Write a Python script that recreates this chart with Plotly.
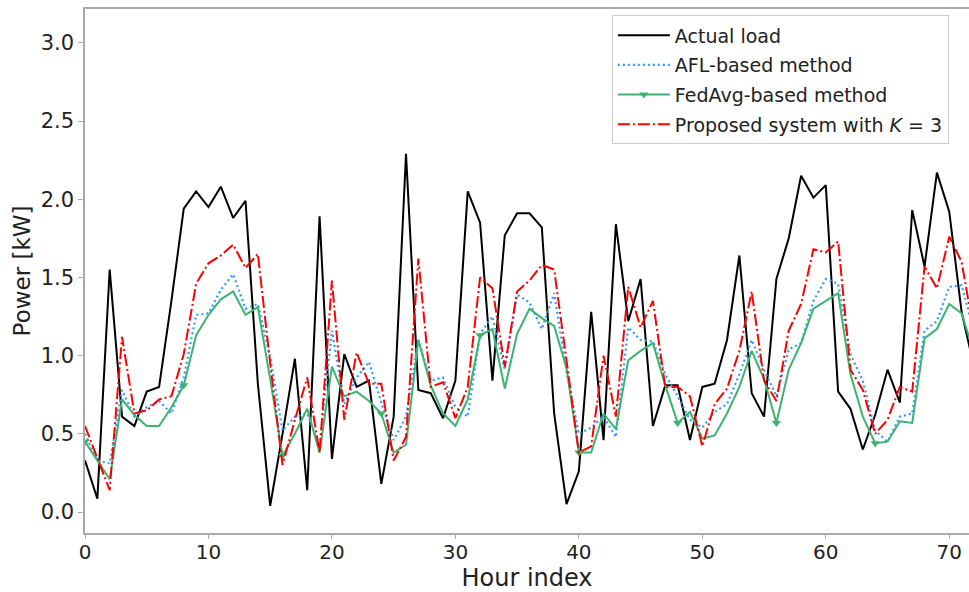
import plotly.graph_objects as go

# Hourly load profile and the three forecasts (kW)
hours = list(range(73))

actual_load = [
    0.33, 0.085, 1.55, 0.61, 0.55, 0.77, 0.80, 1.35, 1.94, 2.05,
    1.95, 2.08, 1.88, 1.99, 0.82, 0.04, 0.50, 0.98, 0.14, 1.89,
    0.34, 1.01, 0.80, 0.84, 0.18, 0.61, 2.29, 0.78, 0.76, 0.60,
    0.84, 2.05, 1.85, 0.84, 1.77, 1.91, 1.91, 1.82, 0.63, 0.05,
    0.26, 1.28, 0.46, 1.84, 1.22, 1.49, 0.55, 0.81, 0.81, 0.46,
    0.80, 0.82, 1.10, 1.64, 0.76, 0.61, 1.49, 1.75, 2.15, 2.01,
    2.09, 0.77, 0.66, 0.40, 0.62, 0.91, 0.70, 1.93, 1.57, 2.17,
    1.92, 1.28, 0.93,
]

afl_method = [
    0.50, 0.33, 0.31, 0.78, 0.61, 0.67, 0.71, 0.63, 0.86, 1.26,
    1.27, 1.42, 1.52, 1.30, 1.33, 0.99, 0.52, 0.61, 0.63, 0.42,
    1.16, 0.69, 0.86, 0.96, 0.70, 0.46, 0.61, 1.10, 0.84, 0.86,
    0.67, 0.61, 1.14, 1.25, 0.91, 1.39, 1.34, 1.17, 1.40, 0.90,
    0.50, 0.54, 0.61, 0.48, 1.18, 1.10, 1.09, 0.88, 0.74, 0.59,
    0.54, 0.64, 0.69, 0.88, 1.10, 0.91, 0.74, 1.04, 1.08, 1.35,
    1.49, 1.46, 1.01, 0.84, 0.52, 0.45, 0.61, 0.63, 1.16, 1.22,
    1.44, 1.45, 1.15,
]

fedavg_method = [
    0.45, 0.33, 0.21, 0.72, 0.62, 0.55, 0.55, 0.67, 0.81, 1.13,
    1.26, 1.36, 1.41, 1.26, 1.31, 0.85, 0.36, 0.50, 0.66, 0.38,
    0.93, 0.74, 0.77, 0.71, 0.63, 0.38, 0.43, 1.10, 0.81, 0.63,
    0.55, 0.72, 1.13, 1.17, 0.79, 1.14, 1.30, 1.24, 1.19, 0.92,
    0.38, 0.38, 0.63, 0.53, 0.97, 1.03, 1.08, 0.81, 0.57, 0.64,
    0.47, 0.49, 0.63, 0.80, 1.03, 0.85, 0.57, 0.91, 1.08, 1.30,
    1.35, 1.40, 0.88, 0.61, 0.44, 0.45, 0.58, 0.57, 1.11, 1.17,
    1.33, 1.27, 1.02,
]

proposed_k3 = [
    0.55, 0.35, 0.14, 1.12, 0.63, 0.65, 0.72, 0.74, 1.01, 1.46,
    1.59, 1.64, 1.71, 1.56, 1.65, 0.95, 0.30, 0.59, 0.86, 0.38,
    1.48, 0.59, 1.02, 0.82, 0.82, 0.33, 0.48, 1.62, 0.80, 0.83,
    0.60, 0.80, 1.50, 1.43, 0.93, 1.41, 1.48, 1.58, 1.55, 0.97,
    0.38, 0.42, 1.00, 0.61, 1.44, 1.18, 1.35, 0.80, 0.80, 0.74,
    0.42, 0.69, 0.79, 1.03, 1.41, 0.84, 0.71, 1.16, 1.33, 1.68,
    1.66, 1.73, 0.91, 0.78, 0.50, 0.59, 0.80, 0.77, 1.57, 1.43,
    1.76, 1.60, 1.15,
]

x_ticks = [0, 10, 20, 30, 40, 50, 60, 70]
y_ticks = [0.0, 0.5, 1.0, 1.5, 2.0, 2.5, 3.0]
y_tick_text = ["0.0", "0.5", "1.0", "1.5", "2.0", "2.5", "3.0"]

FONT = "DejaVu Sans"
TEXT = "#222222"
GREEN = "#3cb371"
MARK_EVERY = 8

# Markers only on every 8th hour: the others are drawn transparent
marker_colors = [GREEN if i % MARK_EVERY == 0 else "rgba(0,0,0,0)" for i in hours]

fig = go.Figure()

fig.add_trace(go.Scatter(
    x=hours, y=actual_load, name="Actual load", mode="lines",
    line=dict(color="black", width=2), legendgroup="a",
))
fig.add_trace(go.Scatter(
    x=hours, y=afl_method, name="AFL-based method", mode="lines",
    line=dict(color="#3399ff", width=2.2, dash="2px,3px"), legendgroup="b",
))
fig.add_trace(go.Scatter(
    x=hours, y=fedavg_method, name="FedAvg-based method", mode="lines+markers",
    line=dict(color=GREEN, width=2),
    marker=dict(symbol="triangle-down", size=8, color=marker_colors,
                line=dict(width=0)),
    legendgroup="c",
))
fig.add_trace(go.Scatter(
    x=hours, y=proposed_k3, name="Proposed system with <i>K</i> = 3", mode="lines",
    line=dict(color="#ff0000", width=2, dash="12px,3px,2px,3px"), legendgroup="d",
))

axis_line = "#aaaaaa"

fig.update_layout(
    width=969, height=592,
    margin=dict(l=85, r=0, t=9, b=59),
    paper_bgcolor="white", plot_bgcolor="white",
    font=dict(family=FONT, size=21, color=TEXT),
    showlegend=True,
    legend=dict(
        x=0.596, y=0.988, xanchor="left", yanchor="top",
        bgcolor="rgba(255,255,255,0.9)", bordercolor="#cccccc", borderwidth=1,
        font=dict(family=FONT, size=19, color=TEXT),
        traceorder="grouped", tracegroupgap=2,
        itemwidth=52,
    ),
    xaxis=dict(
        range=[0, 71.6],
        tickvals=x_ticks, ticktext=[str(v) for v in x_ticks],
        ticks="outside", ticklen=4, tickcolor=axis_line, tickwidth=1,
        ticklabelstandoff=-4,
        showline=True, linecolor=axis_line, linewidth=1.5, mirror=True,
        showgrid=False, zeroline=False,
        tickfont=dict(family=FONT, size=20, color=TEXT),
        title=dict(text="Hour index", font=dict(family=FONT, size=24, color=TEXT),
                   standoff=10),
    ),
    yaxis=dict(
        range=[-0.134, 3.216],
        tickvals=y_ticks, ticktext=y_tick_text,
        ticks="outside", ticklen=5, tickcolor=axis_line, tickwidth=1,
        showline=True, linecolor=axis_line, linewidth=1.5,
        showgrid=False, zeroline=False,
        tickfont=dict(family=FONT, size=21, color=TEXT),
        title=dict(text="Power [kW]", font=dict(family=FONT, size=23, color=TEXT),
                   standoff=4),
    ),
)

fig.write_html("out.html")
